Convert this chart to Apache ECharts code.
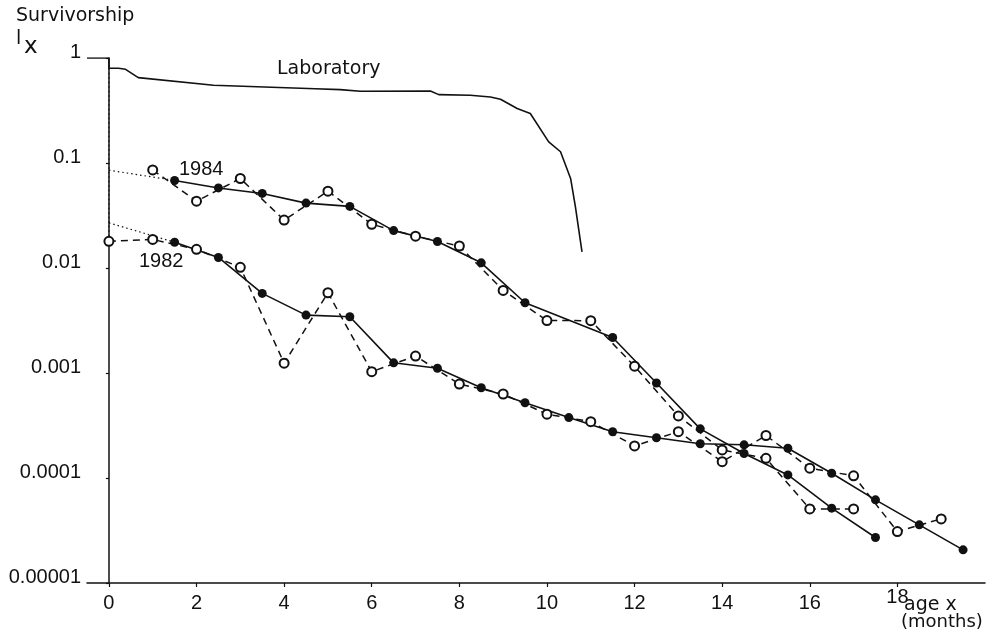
<!DOCTYPE html>
<html>
<head>
<meta charset="utf-8">
<script src="https://cdn.jsdelivr.net/npm/echarts@6/dist/echarts.min.js"></script>
<style>
  html, body { margin: 0; padding: 0; background: #fff; }
  #chart { width: 993px; height: 640px; }
</style>
</head>
<body>
<div id="chart"></div>
<script>
// Survivorship l(x) against age x in months, log scale.

// Laboratory cohort
const labAge = [-0.5, 0, 0, 0.22, 0.38, 0.67, 2.39, 4.71, 5.28, 5.74, 7.34, 7.53, 8.25, 8.71, 8.94, 9.32, 9.62, 10.04, 10.31, 10.54, 10.65, 10.80];
const labLx  = [1, 1, 0.80, 0.80, 0.78, 0.65, 0.55, 0.51, 0.50, 0.482, 0.485, 0.448, 0.442, 0.425, 0.405, 0.330, 0.296, 0.159, 0.128, 0.0712, 0.0382, 0.01426];

// 1984 field cohort: monthly samples (open) and mid-month samples (filled)
const age1984Open  = [1, 2, 3, 4, 5, 6, 7, 8, 9, 10, 11, 12, 13, 14, 15, 16, 17];
const lx1984Open   = [0.0858, 0.0433, 0.0712, 0.0286, 0.0539, 0.0261, 0.0201, 0.0162, 0.00612, 0.00316, 0.00315, 0.00116, 0.000390, 0.000185, 0.000154, 0.0000508, 0.0000508];
const age1984Fill  = [1.5, 2.5, 3.5, 4.5, 5.5, 6.5, 7.5, 8.5, 9.5, 11.5, 12.5, 13.5, 14.5, 15.5, 16.5, 17.5];
const lx1984Fill   = [0.0682, 0.0579, 0.0513, 0.0415, 0.0386, 0.0227, 0.0179, 0.0112, 0.00467, 0.00218, 0.000803, 0.000294, 0.000171, 0.000107, 0.0000516, 0.0000271];

// 1982 field cohort
const age1982Open  = [0, 1, 2, 3, 4, 5, 6, 7, 8, 9, 10, 11, 12, 13, 14, 15, 16, 17, 18, 19];
const lx1982Open   = [0.01795, 0.0187, 0.01507, 0.01014, 0.00124, 0.00581, 0.00103, 0.00145, 0.000785, 0.000631, 0.000405, 0.000344, 0.000202, 0.000276, 0.000143, 0.000254, 0.000124, 0.000105, 0.0000309, 0.0000408];
const age1982Fill  = [1.5, 2.5, 3.5, 4.5, 5.5, 6.5, 7.5, 8.5, 9.5, 10.5, 11.5, 12.5, 13.5, 14.5, 15.5, 16.5, 17.5, 18.5, 19.5];
const lx1982Fill   = [0.0176, 0.0126, 0.00573, 0.00356, 0.00343, 0.00125, 0.00111, 0.000724, 0.000521, 0.000376, 0.000276, 0.000242, 0.000212, 0.000207, 0.000192, 0.000111, 0.0000619, 0.0000358, 0.0000207];

// Dotted extrapolations back to age 0
const dropAge   = [0, 0];
const dropLx    = [0.80, 0.0196];
const ext1984Age = [0, 1.5];
const ext1984Lx  = [0.0854, 0.0682];
const ext1982Age = [0, 1.5];
const ext1982Lx  = [0.0269, 0.0176];

// Axis ticks
const xTickValues = [0, 2, 4, 6, 8, 10, 12, 14, 16, 18];
const yTickLabels = ['0.00001', '0.0001', '0.001', '0.01', '0.1', '1'];

const INK = '#111';
const NUM_FONT = 'Liberation Sans, Arial, sans-serif';
const TXT_FONT = 'DejaVu Sans, sans-serif';

const zip = (xs, ys) => xs.map((x, i) => [x, ys[i]]);

const solid = (name, xs, ys) => ({
  name, type: 'line', data: zip(xs, ys),
  symbol: 'circle', symbolSize: 9, showAllSymbol: true,
  itemStyle: { color: INK },
  lineStyle: { color: INK, width: 1.6, type: 'solid' },
  z: 3, animation: false
});
const dashed = (name, xs, ys) => ({
  name, type: 'line', data: zip(xs, ys),
  symbol: 'emptyCircle', symbolSize: 9, showAllSymbol: true,
  itemStyle: { color: INK, borderColor: INK, borderWidth: 1.7 },
  lineStyle: { color: INK, width: 1.5, type: [7, 5] },
  z: 4, animation: false
});
const dotted = (name, xs, ys) => ({
  name, type: 'line', data: zip(xs, ys), symbol: 'none',
  lineStyle: { color: INK, width: 1.2, type: [1.5, 3] },
  z: 2, animation: false
});

const chart = echarts.init(document.getElementById('chart'), null, { renderer: 'canvas' });

chart.setOption({
  backgroundColor: '#fff',
  animation: false,
  grid: { left: 87, right: 8, top: 58, bottom: 57, containLabel: false, outerBoundsMode: 'none' },
  xAxis: {
    type: 'value', min: -0.5, max: 20,
    axisLine: { show: true, lineStyle: { color: INK, width: 1.5 } },
    axisTick: { show: true, customValues: xTickValues, length: 4, lineStyle: { color: INK, width: 1.2 } },
    axisLabel: {
      customValues: xTickValues, color: INK, fontFamily: NUM_FONT, fontSize: 20, margin: 10,
      formatter: v => (v === 18 ? '{hi|18}' : String(v)),
      rich: { hi: { fontFamily: NUM_FONT, fontSize: 20, color: INK, lineHeight: 8 } }
    },
    splitLine: { show: false }
  },
  yAxis: {
    type: 'log', logBase: 10, min: 0.00001, max: 1,
    axisLine: { show: true, lineStyle: { color: INK, width: 1.5 } },
    axisTick: { show: true, length: 3, lineStyle: { color: INK, width: 1.2 } },
    axisLabel: {
      color: INK, fontFamily: NUM_FONT, fontSize: 20, margin: 6,
      verticalAlign: 'bottom', lineHeight: 12,
      formatter: v => yTickLabels[Math.round(Math.log10(v)) + 5]
    },
    splitLine: { show: false }
  },
  series: [
    {
      name: 'Laboratory', type: 'line', data: zip(labAge, labLx), symbol: 'none',
      lineStyle: { color: INK, width: 1.6 }, z: 3, animation: false
    },
    dotted('drop', dropAge, dropLx),
    dotted('ext1984', ext1984Age, ext1984Lx),
    dotted('ext1982', ext1982Age, ext1982Lx),
    solid('1984 mid-month', age1984Fill, lx1984Fill),
    dashed('1984 monthly', age1984Open, lx1984Open),
    solid('1982 mid-month', age1982Fill, lx1982Fill),
    dashed('1982 monthly', age1982Open, lx1982Open)
  ],
  graphic: [
    { type: 'text', style: { x: 16, y: 7, text: 'Survivorship', font: '19px ' + TXT_FONT, fill: INK } },
    { type: 'text', style: { x: 16, y: 30, text: 'l', font: '19px ' + TXT_FONT, fill: INK } },
    { type: 'text', style: { x: 24, y: 36, text: 'x', font: '23px ' + TXT_FONT, fill: INK } },
    { type: 'text', style: { x: 277, y: 60, text: 'Laboratory', font: '19px ' + TXT_FONT, fill: INK } },
    { type: 'text', style: { x: 179, y: 159, text: '1984', font: '20px ' + NUM_FONT, fill: INK } },
    { type: 'text', style: { x: 139, y: 251, text: '1982', font: '20px ' + NUM_FONT, fill: INK } },
    { type: 'text', style: { x: 904, y: 596, text: 'age x', font: '19px ' + TXT_FONT, fill: INK } },
    { type: 'text', style: { x: 901, y: 613, text: '(months)', font: '18px ' + TXT_FONT, fill: INK } }
  ]
});
</script>
</body>
</html>
